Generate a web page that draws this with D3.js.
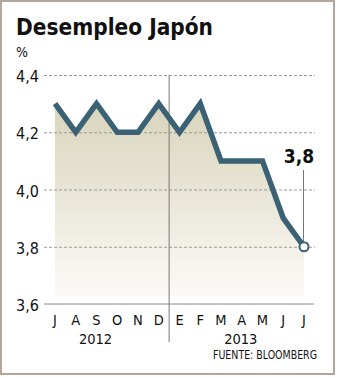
<!DOCTYPE html>
<html>
<head>
<meta charset="utf-8">
<script src="https://cdn.jsdelivr.net/npm/d3@7"></script>
<style>
  html, body { margin: 0; padding: 0; background: #fff; }
  svg { display: block; }
  text { font-family: "DejaVu Sans Condensed", "DejaVu Sans", sans-serif; fill: #111; }
</style>
</head>
<body>
<svg id="chart" width="337" height="377"></svg>
<script>
const title = "Desempleo Japón";
const unit = "%";
const months = ["J","A","S","O","N","D","E","F","M","A","M","J","J"];
const values = [4.3, 4.2, 4.3, 4.2, 4.2, 4.3, 4.2, 4.3, 4.1, 4.1, 4.1, 3.9, 3.8];
const yTicks = [3.6, 3.8, 4.0, 4.2, 4.4];
const years = ["2012", "2013"];
const yearAt = [2, 9];
const lastLabel = "3,8";
const source = "FUENTE: BLOOMBERG";

const svg = d3.select("#chart");
const fmt = v => d3.format(".1f")(v).replace(".", ",");

const x = d3.scalePoint().domain(d3.range(months.length)).range([55, 304]);
const y = d3.scaleLinear().domain([3.6, 4.4]).range([304, 75]);

// border
svg.append("rect").attr("x", 1).attr("y", 1).attr("width", 333).attr("height", 373)
  .attr("fill", "#fff").attr("stroke", "#b5a69d").attr("stroke-width", 2);

// title
svg.append("text").attr("x", 16).attr("y", 35).text(title)
  .attr("font-size", 23).attr("font-weight", "bold")
  .attr("textLength", 197).attr("lengthAdjust", "spacingAndGlyphs");
svg.append("text").attr("x", 16).attr("y", 57).text(unit).attr("font-size", 14);

// gradient
const defs = svg.append("defs");
const grad = defs.append("linearGradient").attr("id", "g").attr("x1", 0).attr("y1", 0).attr("x2", 0).attr("y2", 1);
grad.append("stop").attr("offset", "0%").attr("stop-color", "#d8d4bb");
grad.append("stop").attr("offset", "100%").attr("stop-color", "#fbfaf7");

// area
const area = d3.area().x((d, i) => x(i)).y0(y(3.6) - 8).y1(d => y(d));
svg.append("path").datum(values).attr("d", area).attr("fill", "url(#g)");

// grid
yTicks.forEach(t => {
  if (t === 3.6) {
    svg.append("line").attr("x1", 44).attr("x2", 314).attr("y1", y(t)).attr("y2", y(t))
      .attr("stroke", "#8a8a8a").attr("stroke-width", 1);
  } else {
    svg.append("line").attr("x1", 44).attr("x2", 315).attr("y1", y(t) + 0.5).attr("y2", y(t) + 0.5)
      .attr("stroke", "#9a9a9a").attr("stroke-width", 1).attr("stroke-dasharray", "3,2");
  }
  svg.append("text").attr("x", 16).attr("y", y(t) + 7).text(fmt(t)).attr("font-size", 16);
});

// year separator
const sepX = (x(5) + x(6)) / 2;
svg.append("line").attr("x1", sepX).attr("x2", sepX).attr("y1", 75).attr("y2", 342)
  .attr("stroke", "#777").attr("stroke-width", 1);

// line
const line = d3.line().x((d, i) => x(i)).y(d => y(d));
svg.append("path").datum(values).attr("d", line).attr("fill", "none")
  .attr("stroke", "#3a6174").attr("stroke-width", 5.5).attr("stroke-linejoin", "miter");

// annotation
const li = values.length - 1;
svg.append("line").attr("x1", x(li) - 0.5).attr("x2", x(li) - 0.5).attr("y1", 170).attr("y2", y(values[li]) - 4)
  .attr("stroke", "#777").attr("stroke-width", 1);
svg.append("text").attr("x", x(li) - 5).attr("y", 163).attr("text-anchor", "middle")
  .attr("font-size", 19).attr("font-weight", "bold").text(lastLabel);
svg.append("circle").attr("cx", x(li)).attr("cy", y(values[li])).attr("r", 4.5)
  .attr("fill", "#fff").attr("stroke", "#3a6174").attr("stroke-width", 2);

// month labels
months.forEach((m, i) => {
  svg.append("text").attr("x", x(i)).attr("y", 325).attr("text-anchor", "middle")
    .attr("font-size", 14.5).text(m);
});
years.forEach((yr, i) => {
  svg.append("text").attr("x", x(yearAt[i]) - 1).attr("y", 344).attr("text-anchor", "middle")
    .attr("font-size", 14.5).text(yr);
});

svg.append("text").attr("x", 317).attr("y", 359).attr("text-anchor", "end")
  .attr("font-size", 12).attr("textLength", 104).attr("lengthAdjust", "spacingAndGlyphs").text(source);
</script>
</body>
</html>
